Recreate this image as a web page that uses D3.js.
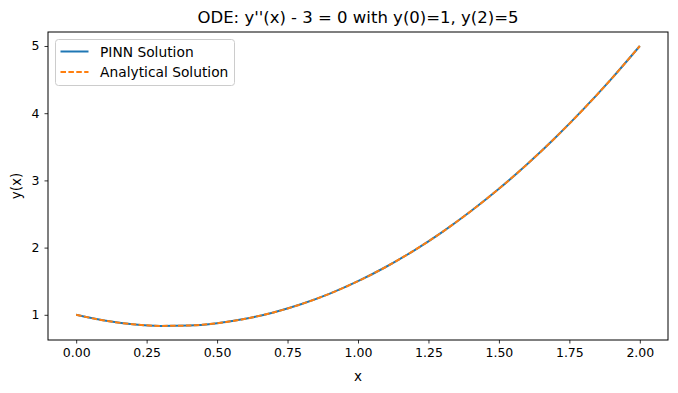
<!DOCTYPE html>
<html>
<head>
<meta charset="utf-8">
<script src="https://d3js.org/d3.v7.min.js"></script>
<style>
  body { margin: 0; background: #fff; }
  svg text { font-family: "DejaVu Sans", sans-serif; fill: #000; }
</style>
</head>
<body>
<svg id="chart" width="678" height="393"></svg>
<script>

// values
var xs = [0.0, 0.1, 0.2, 0.3, 0.4, 0.5, 0.6, 0.7, 0.8, 0.9, 1.0,
          1.1, 1.2, 1.3, 1.4, 1.5, 1.6, 1.7, 1.8, 1.9, 2.0];
var pinnY = [1.0, 0.915, 0.86, 0.835, 0.84, 0.875, 0.94, 1.035, 1.16, 1.315, 1.5,
             1.715, 1.96, 2.235, 2.54, 2.875, 3.24, 3.635, 4.06, 4.515, 5.0];
var exactY = [1.0, 0.915, 0.86, 0.835, 0.84, 0.875, 0.94, 1.035, 1.16, 1.315, 1.5,
              1.715, 1.96, 2.235, 2.54, 2.875, 3.24, 3.635, 4.06, 4.515, 5.0];
var xTicks = [0, 0.25, 0.5, 0.75, 1.0, 1.25, 1.5, 1.75, 2.0];
var yTicks = [1, 2, 3, 4, 5];
var seriesNames = ["PINN Solution", "Analytical Solution"];

var svg = d3.select("#chart");
var mLeft = 48, mRight = 668, mTop = 32, mBottom = 340;

var x = d3.scaleLinear().domain([-0.1, 2.1]).range([mLeft, mRight]);
var y = d3.scaleLinear().domain([0.625, 5.2083]).range([mBottom, mTop]);

// axes
var xAxis = svg.append("g")
    .attr("transform", "translate(0," + mBottom + ")")
    .call(d3.axisBottom(x).tickValues(xTicks).tickFormat(d3.format(".2f")).tickSizeOuter(0).tickSize(3.5).tickPadding(5));
var yAxis = svg.append("g")
    .attr("transform", "translate(" + mLeft + ",0)")
    .call(d3.axisLeft(y).tickValues(yTicks).tickFormat(d3.format("d")).tickSizeOuter(0).tickSize(3.5).tickPadding(5));

[xAxis, yAxis].forEach(function(a) {
  a.select(".domain").remove();
  a.selectAll("text").style("font-size", "12.5px").attr("fill", "#000");
  a.selectAll("line").attr("stroke", "#000").attr("stroke-width", 0.8);
});

// frame
svg.append("rect")
  .attr("x", mLeft).attr("y", mTop)
  .attr("width", mRight - mLeft).attr("height", mBottom - mTop)
  .attr("fill", "none").attr("stroke", "#000").attr("stroke-width", 1);

// lines
var pinn = xs.map(function(d, i) { return [d, pinnY[i]]; });
var exact = xs.map(function(d, i) { return [d, exactY[i]]; });
var line = d3.line()
  .x(function(d) { return x(d[0]); })
  .y(function(d) { return y(d[1]); })
  .curve(d3.curveMonotoneX);

svg.append("path").datum(pinn)
  .attr("d", line).attr("fill", "none")
  .attr("stroke", "#1f77b4").attr("stroke-width", 2);
svg.append("path").datum(exact)
  .attr("d", line).attr("fill", "none")
  .attr("stroke", "#ff7f0e").attr("stroke-width", 2)
  .attr("stroke-dasharray", "5.5,2.4");

// title and axis labels
svg.append("text")
  .attr("x", (mLeft + mRight) / 2).attr("y", 23)
  .attr("text-anchor", "middle").style("font-size", "16.5px")
  .text("ODE: y''(x) - 3 = 0 with y(0)=1, y(2)=5");
svg.append("text")
  .attr("x", (mLeft + mRight) / 2).attr("y", 381)
  .attr("text-anchor", "middle").style("font-size", "13.5px")
  .text("x");
svg.append("text")
  .attr("transform", "translate(21," + ((mTop + mBottom) / 2) + ") rotate(-90)")
  .attr("text-anchor", "middle").style("font-size", "13.5px")
  .text("y(x)");

// legend
var legend = svg.append("g").attr("transform", "translate(55.5,39.5)");
legend.append("rect")
  .attr("width", 179).attr("height", 46).attr("rx", 3)
  .attr("fill", "#fff").attr("fill-opacity", 0.8)
  .attr("stroke", "#ccc").attr("stroke-width", 1);
var colors = ["#1f77b4", "#ff7f0e"];
var dashes = [null, "5.5,2.4"];
seriesNames.forEach(function(name, i) {
  var yy = 12 + i * 20.5;
  legend.append("line")
    .attr("x1", 5).attr("x2", 33).attr("y1", yy).attr("y2", yy)
    .attr("stroke", colors[i]).attr("stroke-width", 2)
    .attr("stroke-dasharray", dashes[i]);
  legend.append("text")
    .attr("x", 44.5).attr("y", yy + 5)
    .style("font-size", "13.8px")
    .text(name);
});
</script>
</body>
</html>
